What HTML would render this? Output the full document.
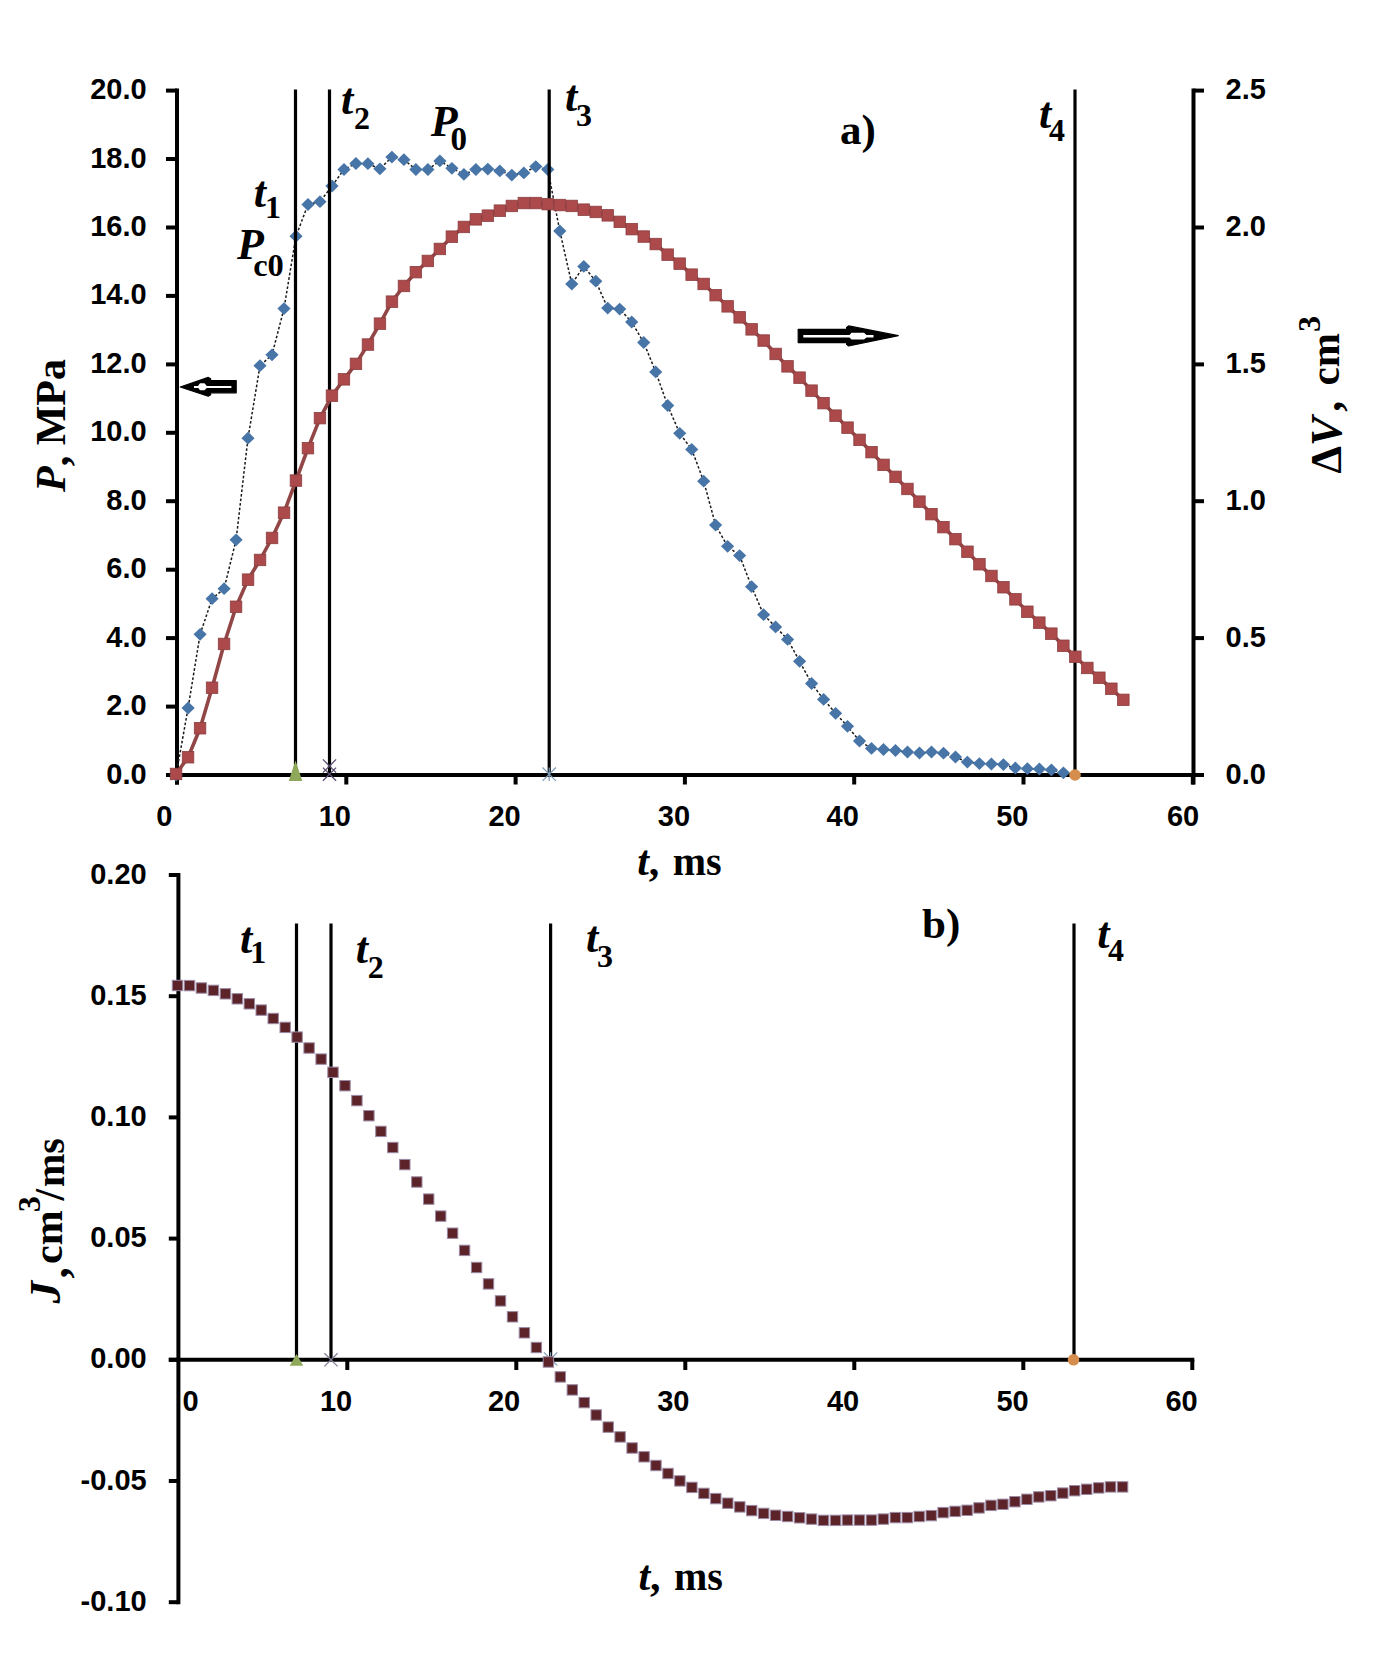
<!DOCTYPE html>
<html><head><meta charset="utf-8"><title>Chart</title>
<style>
html,body{margin:0;padding:0;background:#fff;}
body{width:1400px;height:1656px;overflow:hidden;font-family:"Liberation Sans",sans-serif;}
svg{display:block;}
</style></head><body>
<svg width="1400" height="1656" viewBox="0 0 1400 1656">
<rect width="1400" height="1656" fill="#fff"/>
<g stroke="#000" stroke-width="4" fill="none" stroke-linecap="butt">
<path d="M177.0 88.6 V784.5"/>
<path d="M1193.5 88.6 V784.5"/>
<path d="M175.0 775.0 H1195.5"/>
<path d="M166 90.6 H177.0"/>
<path d="M166 159.0 H177.0"/>
<path d="M166 227.5 H177.0"/>
<path d="M166 295.9 H177.0"/>
<path d="M166 364.4 H177.0"/>
<path d="M166 432.8 H177.0"/>
<path d="M166 501.2 H177.0"/>
<path d="M166 569.7 H177.0"/>
<path d="M166 638.1 H177.0"/>
<path d="M166 706.6 H177.0"/>
<path d="M166 775.0 H177.0"/>
<path d="M1193.5 90.6 H1204"/>
<path d="M1193.5 227.5 H1204"/>
<path d="M1193.5 364.4 H1204"/>
<path d="M1193.5 501.2 H1204"/>
<path d="M1193.5 638.1 H1204"/>
<path d="M1193.5 775.0 H1204"/>
<path d="M177.0 775.0 V784.5"/>
<path d="M346.3 775.0 V784.5"/>
<path d="M515.6 775.0 V784.5"/>
<path d="M684.9 775.0 V784.5"/>
<path d="M854.2 775.0 V784.5"/>
<path d="M1023.5 775.0 V784.5"/>
<path d="M1192.8 775.0 V784.5"/>
</g>
<polyline points="176.1,775.0 188.1,708.0 200.1,634.3 212.1,598.7 224.1,588.7 236.1,539.8 248.0,438.2 260.0,365.7 272.0,354.8 284.0,308.6 296.0,236.2 308.0,204.5 320.0,201.7 332.0,186.0 344.0,169.5 355.9,163.5 367.9,163.7 379.9,168.8 391.9,157.1 403.9,159.7 415.9,169.5 427.9,169.5 439.9,160.9 451.9,168.3 463.9,174.3 475.9,169.5 487.8,169.1 499.8,170.9 511.8,175.1 523.8,172.9 535.8,166.6 547.8,169.5 559.8,231.0 571.8,284.0 583.8,266.4 595.8,281.2 607.7,308.1 619.7,309.1 631.7,322.0 643.7,342.5 655.7,371.9 667.7,405.5 679.7,433.3 691.7,449.4 703.7,481.2 715.6,525.1 727.6,546.3 739.6,555.6 751.6,586.7 763.6,614.7 775.6,626.9 787.6,639.4 799.6,661.3 811.6,683.5 823.6,699.4 835.6,713.3 847.5,726.3 859.5,741.0 871.5,748.4 883.5,749.5 895.5,750.5 907.5,752.0 919.5,753.0 931.5,752.0 943.5,753.2 955.5,757.0 967.4,762.1 979.4,763.6 991.4,764.0 1003.4,764.6 1015.4,768.0 1027.4,768.7 1039.4,769.0 1051.4,769.9 1063.4,772.8" fill="none" stroke="#1a1a1a" stroke-width="1.5" stroke-dasharray="2.6 2"/>
<g fill="#4875a7">
<path d="M176.1 768.6 L182.7 775.0 L176.1 781.4 L169.5 775.0Z"/>
<path d="M188.1 701.6 L194.7 708.0 L188.1 714.4 L181.5 708.0Z"/>
<path d="M200.1 627.9 L206.7 634.3 L200.1 640.7 L193.5 634.3Z"/>
<path d="M212.1 592.3 L218.7 598.7 L212.1 605.1 L205.5 598.7Z"/>
<path d="M224.1 582.3 L230.7 588.7 L224.1 595.1 L217.5 588.7Z"/>
<path d="M236.1 533.4 L242.7 539.8 L236.1 546.2 L229.5 539.8Z"/>
<path d="M248.0 431.8 L254.6 438.2 L248.0 444.6 L241.4 438.2Z"/>
<path d="M260.0 359.3 L266.6 365.7 L260.0 372.1 L253.4 365.7Z"/>
<path d="M272.0 348.4 L278.6 354.8 L272.0 361.2 L265.4 354.8Z"/>
<path d="M284.0 302.2 L290.6 308.6 L284.0 315.0 L277.4 308.6Z"/>
<path d="M296.0 229.8 L302.6 236.2 L296.0 242.6 L289.4 236.2Z"/>
<path d="M308.0 198.1 L314.6 204.5 L308.0 210.9 L301.4 204.5Z"/>
<path d="M320.0 195.3 L326.6 201.7 L320.0 208.1 L313.4 201.7Z"/>
<path d="M332.0 179.6 L338.6 186.0 L332.0 192.4 L325.4 186.0Z"/>
<path d="M344.0 163.1 L350.6 169.5 L344.0 175.9 L337.4 169.5Z"/>
<path d="M355.9 157.1 L362.6 163.5 L355.9 169.9 L349.3 163.5Z"/>
<path d="M367.9 157.3 L374.5 163.7 L367.9 170.1 L361.3 163.7Z"/>
<path d="M379.9 162.4 L386.5 168.8 L379.9 175.2 L373.3 168.8Z"/>
<path d="M391.9 150.7 L398.5 157.1 L391.9 163.5 L385.3 157.1Z"/>
<path d="M403.9 153.3 L410.5 159.7 L403.9 166.1 L397.3 159.7Z"/>
<path d="M415.9 163.1 L422.5 169.5 L415.9 175.9 L409.3 169.5Z"/>
<path d="M427.9 163.1 L434.5 169.5 L427.9 175.9 L421.3 169.5Z"/>
<path d="M439.9 154.5 L446.5 160.9 L439.9 167.3 L433.3 160.9Z"/>
<path d="M451.9 161.9 L458.5 168.3 L451.9 174.7 L445.3 168.3Z"/>
<path d="M463.9 167.9 L470.5 174.3 L463.9 180.7 L457.3 174.3Z"/>
<path d="M475.9 163.1 L482.5 169.5 L475.9 175.9 L469.2 169.5Z"/>
<path d="M487.8 162.7 L494.4 169.1 L487.8 175.5 L481.2 169.1Z"/>
<path d="M499.8 164.5 L506.4 170.9 L499.8 177.3 L493.2 170.9Z"/>
<path d="M511.8 168.7 L518.4 175.1 L511.8 181.5 L505.2 175.1Z"/>
<path d="M523.8 166.5 L530.4 172.9 L523.8 179.3 L517.2 172.9Z"/>
<path d="M535.8 160.2 L542.4 166.6 L535.8 173.0 L529.2 166.6Z"/>
<path d="M547.8 163.1 L554.4 169.5 L547.8 175.9 L541.2 169.5Z"/>
<path d="M559.8 224.6 L566.4 231.0 L559.8 237.4 L553.2 231.0Z"/>
<path d="M571.8 277.6 L578.4 284.0 L571.8 290.4 L565.2 284.0Z"/>
<path d="M583.8 260.0 L590.4 266.4 L583.8 272.8 L577.2 266.4Z"/>
<path d="M595.8 274.8 L602.4 281.2 L595.8 287.6 L589.1 281.2Z"/>
<path d="M607.7 301.7 L614.3 308.1 L607.7 314.5 L601.1 308.1Z"/>
<path d="M619.7 302.7 L626.3 309.1 L619.7 315.5 L613.1 309.1Z"/>
<path d="M631.7 315.6 L638.3 322.0 L631.7 328.4 L625.1 322.0Z"/>
<path d="M643.7 336.1 L650.3 342.5 L643.7 348.9 L637.1 342.5Z"/>
<path d="M655.7 365.5 L662.3 371.9 L655.7 378.3 L649.1 371.9Z"/>
<path d="M667.7 399.1 L674.3 405.5 L667.7 411.9 L661.1 405.5Z"/>
<path d="M679.7 426.9 L686.3 433.3 L679.7 439.7 L673.1 433.3Z"/>
<path d="M691.7 443.0 L698.3 449.4 L691.7 455.8 L685.1 449.4Z"/>
<path d="M703.7 474.8 L710.3 481.2 L703.7 487.6 L697.1 481.2Z"/>
<path d="M715.6 518.7 L722.2 525.1 L715.6 531.5 L709.0 525.1Z"/>
<path d="M727.6 539.9 L734.2 546.3 L727.6 552.7 L721.0 546.3Z"/>
<path d="M739.6 549.2 L746.2 555.6 L739.6 562.0 L733.0 555.6Z"/>
<path d="M751.6 580.3 L758.2 586.7 L751.6 593.1 L745.0 586.7Z"/>
<path d="M763.6 608.3 L770.2 614.7 L763.6 621.1 L757.0 614.7Z"/>
<path d="M775.6 620.5 L782.2 626.9 L775.6 633.3 L769.0 626.9Z"/>
<path d="M787.6 633.0 L794.2 639.4 L787.6 645.8 L781.0 639.4Z"/>
<path d="M799.6 654.9 L806.2 661.3 L799.6 667.7 L793.0 661.3Z"/>
<path d="M811.6 677.1 L818.2 683.5 L811.6 689.9 L805.0 683.5Z"/>
<path d="M823.6 693.0 L830.2 699.4 L823.6 705.8 L817.0 699.4Z"/>
<path d="M835.6 706.9 L842.2 713.3 L835.6 719.7 L829.0 713.3Z"/>
<path d="M847.5 719.9 L854.1 726.3 L847.5 732.7 L840.9 726.3Z"/>
<path d="M859.5 734.6 L866.1 741.0 L859.5 747.4 L852.9 741.0Z"/>
<path d="M871.5 742.0 L878.1 748.4 L871.5 754.8 L864.9 748.4Z"/>
<path d="M883.5 743.1 L890.1 749.5 L883.5 755.9 L876.9 749.5Z"/>
<path d="M895.5 744.1 L902.1 750.5 L895.5 756.9 L888.9 750.5Z"/>
<path d="M907.5 745.6 L914.1 752.0 L907.5 758.4 L900.9 752.0Z"/>
<path d="M919.5 746.6 L926.1 753.0 L919.5 759.4 L912.9 753.0Z"/>
<path d="M931.5 745.6 L938.1 752.0 L931.5 758.4 L924.9 752.0Z"/>
<path d="M943.5 746.8 L950.1 753.2 L943.5 759.6 L936.9 753.2Z"/>
<path d="M955.5 750.6 L962.1 757.0 L955.5 763.4 L948.9 757.0Z"/>
<path d="M967.4 755.7 L974.0 762.1 L967.4 768.5 L960.8 762.1Z"/>
<path d="M979.4 757.2 L986.0 763.6 L979.4 770.0 L972.8 763.6Z"/>
<path d="M991.4 757.6 L998.0 764.0 L991.4 770.4 L984.8 764.0Z"/>
<path d="M1003.4 758.2 L1010.0 764.6 L1003.4 771.0 L996.8 764.6Z"/>
<path d="M1015.4 761.6 L1022.0 768.0 L1015.4 774.4 L1008.8 768.0Z"/>
<path d="M1027.4 762.3 L1034.0 768.7 L1027.4 775.1 L1020.8 768.7Z"/>
<path d="M1039.4 762.6 L1046.0 769.0 L1039.4 775.4 L1032.8 769.0Z"/>
<path d="M1051.4 763.5 L1058.0 769.9 L1051.4 776.3 L1044.8 769.9Z"/>
<path d="M1063.4 766.4 L1070.0 772.8 L1063.4 779.2 L1056.8 772.8Z"/>
</g>
<g stroke="#000" stroke-width="3.2">
<path d="M295.5 89.6 V775.0"/>
<path d="M329.5 89.6 V775.0"/>
<path d="M549.2 89.6 V775.0"/>
<path d="M1075.0 89.6 V775.0"/>
</g>
<polyline points="176.1,774.0 188.1,757.2 200.1,728.2 212.1,687.7 224.1,644.0 236.1,606.8 248.0,579.6 260.0,560.0 272.0,538.0 284.0,512.6 296.0,480.5 308.0,448.1 320.0,418.2 332.0,395.6 344.0,379.3 355.9,363.9 367.9,344.5 379.9,323.6 391.9,301.7 403.9,286.0 415.9,272.1 427.9,261.0 439.9,248.9 451.9,236.7 463.9,226.9 475.9,219.3 487.8,215.7 499.8,210.7 511.8,206.0 523.8,203.1 535.8,203.1 547.8,204.2 559.8,205.1 571.8,206.0 583.8,209.7 595.8,211.9 607.7,215.3 619.7,221.8 631.7,229.2 643.7,236.6 655.7,244.1 667.7,254.7 679.7,263.6 691.7,274.7 703.7,284.0 715.6,295.1 727.6,306.3 739.6,317.4 751.6,329.4 763.6,340.5 775.6,354.0 787.6,366.4 799.6,377.6 811.6,390.6 823.6,403.2 835.6,415.6 847.5,427.7 859.5,439.8 871.5,452.2 883.5,464.8 895.5,476.9 907.5,489.0 919.5,501.6 931.5,514.1 943.5,527.1 955.5,539.1 967.4,551.8 979.4,564.2 991.4,576.0 1003.4,587.2 1015.4,599.4 1027.4,611.7 1039.4,622.6 1051.4,633.6 1063.4,645.8 1075.3,656.8 1087.3,668.0 1099.3,677.7 1111.3,688.7 1123.3,699.9" fill="none" stroke="#924646" stroke-width="3.6" stroke-linejoin="round"/>
<g fill="#ab494b" stroke="#8c3f40" stroke-width="0.8">
<rect x="170.3" y="768.2" width="11.5" height="11.5"/>
<rect x="182.3" y="751.5" width="11.5" height="11.5"/>
<rect x="194.3" y="722.5" width="11.5" height="11.5"/>
<rect x="206.3" y="682.0" width="11.5" height="11.5"/>
<rect x="218.3" y="638.2" width="11.5" height="11.5"/>
<rect x="230.3" y="601.0" width="11.5" height="11.5"/>
<rect x="242.3" y="573.9" width="11.5" height="11.5"/>
<rect x="254.3" y="554.2" width="11.5" height="11.5"/>
<rect x="266.3" y="532.2" width="11.5" height="11.5"/>
<rect x="278.3" y="506.9" width="11.5" height="11.5"/>
<rect x="290.2" y="474.8" width="11.5" height="11.5"/>
<rect x="302.2" y="442.4" width="11.5" height="11.5"/>
<rect x="314.2" y="412.4" width="11.5" height="11.5"/>
<rect x="326.2" y="389.9" width="11.5" height="11.5"/>
<rect x="338.2" y="373.6" width="11.5" height="11.5"/>
<rect x="350.2" y="358.1" width="11.5" height="11.5"/>
<rect x="362.2" y="338.8" width="11.5" height="11.5"/>
<rect x="374.2" y="317.9" width="11.5" height="11.5"/>
<rect x="386.2" y="295.9" width="11.5" height="11.5"/>
<rect x="398.2" y="280.2" width="11.5" height="11.5"/>
<rect x="410.1" y="266.4" width="11.5" height="11.5"/>
<rect x="422.1" y="255.2" width="11.5" height="11.5"/>
<rect x="434.1" y="243.2" width="11.5" height="11.5"/>
<rect x="446.1" y="230.9" width="11.5" height="11.5"/>
<rect x="458.1" y="221.2" width="11.5" height="11.5"/>
<rect x="470.1" y="213.6" width="11.5" height="11.5"/>
<rect x="482.1" y="209.9" width="11.5" height="11.5"/>
<rect x="494.1" y="204.9" width="11.5" height="11.5"/>
<rect x="506.1" y="200.2" width="11.5" height="11.5"/>
<rect x="518.1" y="197.3" width="11.5" height="11.5"/>
<rect x="530.0" y="197.3" width="11.5" height="11.5"/>
<rect x="542.0" y="198.4" width="11.5" height="11.5"/>
<rect x="554.0" y="199.3" width="11.5" height="11.5"/>
<rect x="566.0" y="200.2" width="11.5" height="11.5"/>
<rect x="578.0" y="203.9" width="11.5" height="11.5"/>
<rect x="590.0" y="206.2" width="11.5" height="11.5"/>
<rect x="602.0" y="209.6" width="11.5" height="11.5"/>
<rect x="614.0" y="216.1" width="11.5" height="11.5"/>
<rect x="626.0" y="223.4" width="11.5" height="11.5"/>
<rect x="638.0" y="230.8" width="11.5" height="11.5"/>
<rect x="650.0" y="238.3" width="11.5" height="11.5"/>
<rect x="661.9" y="248.9" width="11.5" height="11.5"/>
<rect x="673.9" y="257.9" width="11.5" height="11.5"/>
<rect x="685.9" y="268.9" width="11.5" height="11.5"/>
<rect x="697.9" y="278.2" width="11.5" height="11.5"/>
<rect x="709.9" y="289.4" width="11.5" height="11.5"/>
<rect x="721.9" y="300.6" width="11.5" height="11.5"/>
<rect x="733.9" y="311.6" width="11.5" height="11.5"/>
<rect x="745.9" y="323.6" width="11.5" height="11.5"/>
<rect x="757.9" y="334.8" width="11.5" height="11.5"/>
<rect x="769.9" y="348.2" width="11.5" height="11.5"/>
<rect x="781.8" y="360.6" width="11.5" height="11.5"/>
<rect x="793.8" y="371.9" width="11.5" height="11.5"/>
<rect x="805.8" y="384.9" width="11.5" height="11.5"/>
<rect x="817.8" y="397.4" width="11.5" height="11.5"/>
<rect x="829.8" y="409.9" width="11.5" height="11.5"/>
<rect x="841.8" y="421.9" width="11.5" height="11.5"/>
<rect x="853.8" y="434.1" width="11.5" height="11.5"/>
<rect x="865.8" y="446.4" width="11.5" height="11.5"/>
<rect x="877.8" y="459.1" width="11.5" height="11.5"/>
<rect x="889.8" y="471.1" width="11.5" height="11.5"/>
<rect x="901.7" y="483.2" width="11.5" height="11.5"/>
<rect x="913.7" y="495.9" width="11.5" height="11.5"/>
<rect x="925.7" y="508.4" width="11.5" height="11.5"/>
<rect x="937.7" y="521.4" width="11.5" height="11.5"/>
<rect x="949.7" y="533.4" width="11.5" height="11.5"/>
<rect x="961.7" y="546.0" width="11.5" height="11.5"/>
<rect x="973.7" y="558.5" width="11.5" height="11.5"/>
<rect x="985.7" y="570.2" width="11.5" height="11.5"/>
<rect x="997.7" y="581.5" width="11.5" height="11.5"/>
<rect x="1009.7" y="593.6" width="11.5" height="11.5"/>
<rect x="1021.6" y="606.0" width="11.5" height="11.5"/>
<rect x="1033.6" y="616.9" width="11.5" height="11.5"/>
<rect x="1045.6" y="627.9" width="11.5" height="11.5"/>
<rect x="1057.6" y="640.0" width="11.5" height="11.5"/>
<rect x="1069.6" y="651.0" width="11.5" height="11.5"/>
<rect x="1081.6" y="662.2" width="11.5" height="11.5"/>
<rect x="1093.6" y="672.0" width="11.5" height="11.5"/>
<rect x="1105.6" y="683.0" width="11.5" height="11.5"/>
<rect x="1117.6" y="694.1" width="11.5" height="11.5"/>
</g>
<path d="M295.5 760.5 L302.3 781.0 L288.7 781.0Z" fill="#8fa85a"/>
<path d="M322.9 759.4 L336.1 772.6 M336.1 759.4 L322.9 772.6 M322.9 767.6 L336.1 780.8000000000001 M336.1 767.6 L322.9 780.8000000000001" stroke="#5a4d72" stroke-width="1.3" fill="none"/>
<path d="M542.5 767.5 L555.9000000000001 780.9000000000001 M555.9000000000001 767.5 L542.5 780.9000000000001 M549.2 767.5 V780.9000000000001" stroke="#7e9db8" stroke-width="1.2" fill="none"/>
<circle cx="1075.0" cy="775.0" r="5.8" fill="#d58e4e"/>
<g stroke="#000" stroke-width="4" fill="none">
<path d="M178.4 873.0 V1604.2"/>
<path d="M168.8 1359.8 H1194.3"/>
<path d="M168.8 875.0 H178.4"/>
<path d="M168.8 996.2 H178.4"/>
<path d="M168.8 1117.4 H178.4"/>
<path d="M168.8 1238.6 H178.4"/>
<path d="M168.8 1359.8 H178.4"/>
<path d="M168.8 1481.0 H178.4"/>
<path d="M168.8 1602.2 H178.4"/>
<path d="M347.3 1359.8 V1370"/>
<path d="M516.3 1359.8 V1370"/>
<path d="M685.3 1359.8 V1370"/>
<path d="M854.3 1359.8 V1370"/>
<path d="M1023.3 1359.8 V1370"/>
<path d="M1192.3 1359.8 V1370"/>
</g>
<g stroke="#000" stroke-width="3.2">
<path d="M296.5 923.5 V1359.8"/>
<path d="M331.0 923.5 V1359.8"/>
<path d="M550.6 923.5 V1359.8"/>
<path d="M1074.0 923.5 V1359.8"/>
</g>
<path d="M296.5 1354 L303.3 1365.8 L289.7 1365.8Z" fill="#8fa85a"/>
<path d="M324.4 1353.2 L337.6 1366.3999999999999 M337.6 1353.2 L324.4 1366.3999999999999" stroke="#80809a" stroke-width="1.3" fill="none"/>
<path d="M543.9 1352.3 L557.3000000000001 1365.7 M557.3000000000001 1352.3 L543.9 1365.7 M550.6 1352.3 V1365.7" stroke="#7e9db8" stroke-width="1.2" fill="none"/>
<circle cx="1073.5" cy="1359.8" r="5.8" fill="#d58e4e"/>
<g fill="#5c2329" stroke="#9c8aa6" stroke-width="1">
<rect x="172.3" y="980.3" width="10.4" height="10.4"/>
<rect x="184.3" y="980.4" width="10.4" height="10.4"/>
<rect x="196.2" y="982.8" width="10.4" height="10.4"/>
<rect x="208.2" y="985.2" width="10.4" height="10.4"/>
<rect x="220.2" y="988.6" width="10.4" height="10.4"/>
<rect x="232.1" y="993.6" width="10.4" height="10.4"/>
<rect x="244.1" y="998.6" width="10.4" height="10.4"/>
<rect x="256.0" y="1004.9" width="10.4" height="10.4"/>
<rect x="268.0" y="1013.3" width="10.4" height="10.4"/>
<rect x="280.0" y="1022.2" width="10.4" height="10.4"/>
<rect x="291.9" y="1031.9" width="10.4" height="10.4"/>
<rect x="303.9" y="1042.8" width="10.4" height="10.4"/>
<rect x="315.9" y="1053.9" width="10.4" height="10.4"/>
<rect x="327.8" y="1067.1" width="10.4" height="10.4"/>
<rect x="339.8" y="1080.5" width="10.4" height="10.4"/>
<rect x="351.7" y="1095.4" width="10.4" height="10.4"/>
<rect x="363.7" y="1110.5" width="10.4" height="10.4"/>
<rect x="375.7" y="1126.2" width="10.4" height="10.4"/>
<rect x="387.6" y="1142.3" width="10.4" height="10.4"/>
<rect x="399.6" y="1159.4" width="10.4" height="10.4"/>
<rect x="411.6" y="1176.8" width="10.4" height="10.4"/>
<rect x="423.5" y="1193.9" width="10.4" height="10.4"/>
<rect x="435.5" y="1210.9" width="10.4" height="10.4"/>
<rect x="447.4" y="1228.0" width="10.4" height="10.4"/>
<rect x="459.4" y="1245.2" width="10.4" height="10.4"/>
<rect x="471.4" y="1262.3" width="10.4" height="10.4"/>
<rect x="483.3" y="1278.7" width="10.4" height="10.4"/>
<rect x="495.3" y="1295.7" width="10.4" height="10.4"/>
<rect x="507.3" y="1311.6" width="10.4" height="10.4"/>
<rect x="519.2" y="1327.6" width="10.4" height="10.4"/>
<rect x="531.2" y="1342.3" width="10.4" height="10.4"/>
<rect x="543.2" y="1356.8" width="10.4" height="10.4"/>
<rect x="555.1" y="1371.7" width="10.4" height="10.4"/>
<rect x="567.1" y="1384.7" width="10.4" height="10.4"/>
<rect x="579.0" y="1397.4" width="10.4" height="10.4"/>
<rect x="591.0" y="1409.8" width="10.4" height="10.4"/>
<rect x="603.0" y="1421.9" width="10.4" height="10.4"/>
<rect x="614.9" y="1431.7" width="10.4" height="10.4"/>
<rect x="626.9" y="1442.8" width="10.4" height="10.4"/>
<rect x="638.9" y="1451.6" width="10.4" height="10.4"/>
<rect x="650.8" y="1460.3" width="10.4" height="10.4"/>
<rect x="662.8" y="1468.3" width="10.4" height="10.4"/>
<rect x="674.7" y="1475.7" width="10.4" height="10.4"/>
<rect x="686.7" y="1482.2" width="10.4" height="10.4"/>
<rect x="698.7" y="1488.2" width="10.4" height="10.4"/>
<rect x="710.6" y="1493.4" width="10.4" height="10.4"/>
<rect x="722.6" y="1498.0" width="10.4" height="10.4"/>
<rect x="734.6" y="1501.7" width="10.4" height="10.4"/>
<rect x="746.5" y="1505.4" width="10.4" height="10.4"/>
<rect x="758.5" y="1508.2" width="10.4" height="10.4"/>
<rect x="770.4" y="1510.1" width="10.4" height="10.4"/>
<rect x="782.4" y="1511.3" width="10.4" height="10.4"/>
<rect x="794.4" y="1512.6" width="10.4" height="10.4"/>
<rect x="806.3" y="1513.9" width="10.4" height="10.4"/>
<rect x="818.3" y="1515.2" width="10.4" height="10.4"/>
<rect x="830.3" y="1515.2" width="10.4" height="10.4"/>
<rect x="842.2" y="1514.9" width="10.4" height="10.4"/>
<rect x="854.2" y="1514.9" width="10.4" height="10.4"/>
<rect x="866.2" y="1514.9" width="10.4" height="10.4"/>
<rect x="878.1" y="1513.9" width="10.4" height="10.4"/>
<rect x="890.1" y="1512.4" width="10.4" height="10.4"/>
<rect x="902.0" y="1512.4" width="10.4" height="10.4"/>
<rect x="914.0" y="1511.3" width="10.4" height="10.4"/>
<rect x="926.0" y="1510.4" width="10.4" height="10.4"/>
<rect x="937.9" y="1507.4" width="10.4" height="10.4"/>
<rect x="949.9" y="1506.2" width="10.4" height="10.4"/>
<rect x="961.9" y="1505.1" width="10.4" height="10.4"/>
<rect x="973.8" y="1502.7" width="10.4" height="10.4"/>
<rect x="985.8" y="1500.2" width="10.4" height="10.4"/>
<rect x="997.7" y="1499.1" width="10.4" height="10.4"/>
<rect x="1009.7" y="1496.5" width="10.4" height="10.4"/>
<rect x="1021.7" y="1494.1" width="10.4" height="10.4"/>
<rect x="1033.6" y="1491.7" width="10.4" height="10.4"/>
<rect x="1045.6" y="1490.5" width="10.4" height="10.4"/>
<rect x="1057.6" y="1487.9" width="10.4" height="10.4"/>
<rect x="1069.5" y="1485.5" width="10.4" height="10.4"/>
<rect x="1081.5" y="1484.1" width="10.4" height="10.4"/>
<rect x="1093.5" y="1482.7" width="10.4" height="10.4"/>
<rect x="1105.4" y="1481.7" width="10.4" height="10.4"/>
<rect x="1117.4" y="1481.7" width="10.4" height="10.4"/>
</g>
<g font-family="Liberation Sans" font-weight="bold" font-size="29" fill="#000">
<text x="146.6" y="99.1" text-anchor="end">20.0</text>
<text x="146.6" y="167.5" text-anchor="end">18.0</text>
<text x="146.6" y="236.0" text-anchor="end">16.0</text>
<text x="146.6" y="304.4" text-anchor="end">14.0</text>
<text x="146.6" y="372.9" text-anchor="end">12.0</text>
<text x="146.6" y="441.3" text-anchor="end">10.0</text>
<text x="146.6" y="509.7" text-anchor="end">8.0</text>
<text x="146.6" y="578.2" text-anchor="end">6.0</text>
<text x="146.6" y="646.6" text-anchor="end">4.0</text>
<text x="146.6" y="715.1" text-anchor="end">2.0</text>
<text x="146.6" y="783.5" text-anchor="end">0.0</text>
<text x="1225.6" y="99.1">2.5</text>
<text x="1225.6" y="236.0">2.0</text>
<text x="1225.6" y="372.9">1.5</text>
<text x="1225.6" y="509.7">1.0</text>
<text x="1225.6" y="646.6">0.5</text>
<text x="1225.6" y="783.5">0.0</text>
<text x="164.4" y="826" text-anchor="middle">0</text>
<text x="334.8" y="826" text-anchor="middle">10</text>
<text x="504.6" y="826" text-anchor="middle">20</text>
<text x="673.9" y="826" text-anchor="middle">30</text>
<text x="842.7" y="826" text-anchor="middle">40</text>
<text x="1012.3" y="826" text-anchor="middle">50</text>
<text x="1183.1" y="826" text-anchor="middle">60</text>
<text x="146.7" y="883.6" text-anchor="end">0.20</text>
<text x="146.7" y="1004.8" text-anchor="end">0.15</text>
<text x="146.7" y="1126.0" text-anchor="end">0.10</text>
<text x="146.7" y="1247.2" text-anchor="end">0.05</text>
<text x="146.7" y="1368.4" text-anchor="end">0.00</text>
<text x="146.7" y="1489.6" text-anchor="end">-0.05</text>
<text x="146.7" y="1610.8" text-anchor="end">-0.10</text>
<text x="190.5" y="1411" text-anchor="middle">0</text>
<text x="336.1" y="1411" text-anchor="middle">10</text>
<text x="504.1" y="1411" text-anchor="middle">20</text>
<text x="673.3" y="1411" text-anchor="middle">30</text>
<text x="843.1" y="1411" text-anchor="middle">40</text>
<text x="1012.6" y="1411" text-anchor="middle">50</text>
<text x="1181.6" y="1411" text-anchor="middle">60</text>
</g>
<text font-family="Liberation Serif" font-weight="bold" font-style="italic" font-size="44" x="253.8" y="207">t</text><text font-family="Liberation Serif" font-weight="bold" font-size="32" x="265.0" y="217.8">1</text>
<text font-family="Liberation Serif" font-weight="bold" font-style="italic" font-size="44" x="341.1" y="113.8">t</text><text font-family="Liberation Serif" font-weight="bold" font-size="32" x="354.1" y="128.8">2</text>
<text font-family="Liberation Serif" font-weight="bold" font-style="italic" font-size="44" x="565" y="111.4">t</text><text font-family="Liberation Serif" font-weight="bold" font-size="32" x="576" y="126.4">3</text>
<text font-family="Liberation Serif" font-weight="bold" font-style="italic" font-size="44" x="1039" y="128">t</text><text font-family="Liberation Serif" font-weight="bold" font-size="32" x="1049" y="141">4</text>
<text font-family="Liberation Serif" font-weight="bold" font-style="italic" font-size="44" x="239.9" y="952.5">t</text><text font-family="Liberation Serif" font-weight="bold" font-size="32" x="250.3" y="963.4">1</text>
<text font-family="Liberation Serif" font-weight="bold" font-style="italic" font-size="44" x="355.7" y="963.4">t</text><text font-family="Liberation Serif" font-weight="bold" font-size="32" x="367.8" y="978">2</text>
<text font-family="Liberation Serif" font-weight="bold" font-style="italic" font-size="44" x="586.1" y="952.3">t</text><text font-family="Liberation Serif" font-weight="bold" font-size="32" x="597" y="967.1">3</text>
<text font-family="Liberation Serif" font-weight="bold" font-style="italic" font-size="44" x="1097.3" y="948">t</text><text font-family="Liberation Serif" font-weight="bold" font-size="32" x="1108" y="960.5">4</text>
<text font-family="Liberation Serif" font-weight="bold" font-style="italic" font-size="44" x="237" y="258.7">P</text>
<text font-family="Liberation Serif" font-weight="bold" font-size="32.5" x="253.2" y="276.2">c0</text>
<text font-family="Liberation Serif" font-weight="bold" font-style="italic" font-size="44" x="430.7" y="135.7">P</text>
<text font-family="Liberation Serif" font-weight="bold" font-size="33" x="450.4" y="149.7">0</text>
<text font-family="Liberation Serif" font-weight="bold" font-size="43" x="840" y="144.1">a)</text>
<text font-family="Liberation Serif" font-weight="bold" font-size="43" x="922" y="938.2">b)</text>
<text font-family="Liberation Serif" font-weight="bold" font-size="42" x="637.2" y="875.1"><tspan font-style="italic">t</tspan>,</text>
<text font-family="Liberation Serif" font-weight="bold" font-size="40" x="672.7" y="875.1">ms</text>
<text font-family="Liberation Serif" font-weight="bold" font-size="42" x="638.4" y="1589.7"><tspan font-style="italic">t</tspan>,</text>
<text font-family="Liberation Serif" font-weight="bold" font-size="40" x="673.9" y="1589.7">ms</text>
<text font-family="Liberation Serif" font-weight="bold" font-size="42" transform="translate(64.6,492) rotate(-90)"><tspan font-style="italic">P</tspan><tspan dy="3">,</tspan><tspan dy="-3"> MPa</tspan></text>
<text font-family="Liberation Serif" font-weight="bold" font-size="44" transform="translate(1340.5,473.5) rotate(-90)">&#916;<tspan font-style="italic">V</tspan><tspan dx="4.7">,</tspan></text>
<text font-family="Liberation Serif" font-weight="bold" font-size="41" transform="translate(1339,385.5) rotate(-90)">cm</text>
<text font-family="Liberation Serif" font-weight="bold" font-size="32" transform="translate(1319.6,332) rotate(-90)">3</text>
<text font-family="Liberation Serif" font-weight="bold" font-size="45" font-style="italic" transform="translate(59.5,1303.5) rotate(-90)">J</text>
<text font-family="Liberation Serif" font-weight="bold" font-size="45" transform="translate(67.5,1278.5) rotate(-90)">,</text>
<text font-family="Liberation Serif" font-weight="bold" font-size="42" transform="translate(61.5,1264) rotate(-90)">cm</text>
<text font-family="Liberation Serif" font-weight="bold" font-size="32" transform="translate(40.4,1212.2) rotate(-90)">3</text>
<text font-family="Liberation Serif" font-weight="bold" font-size="42" transform="translate(64,1200.5) rotate(-90)">/</text>
<text font-family="Liberation Serif" font-weight="bold" font-size="40" transform="translate(64.3,1187) rotate(-90)">ms</text>
<g fill="#000" stroke="#000" stroke-width="1.2" stroke-linejoin="round">
<path d="M180.2 387 L208.3 377.4 L210.6 378.8 L210.6 380.6 L236.2 380.6 L236.2 392.8 L210.6 392.8 L210.6 394.8 L208.3 396.2 Z"/>
<path d="M898.3 335.7 L848.6 325.9 L846.6 327.4 L846.6 329.3 L798.2 329.3 L798.2 342.6 L846.6 342.6 L846.6 344.4 L848.6 346 Z"/>
</g>
<g fill="#fff">
<path d="M194 386 L231.4 386 L231.4 388.1 L194 388.1 Z M197.4 386.8 L200 383.3 L204.5 383.3 L206.8 386 L206.8 388 L204.5 390.3 L200 390.3 Z"/>
<path d="M803.3 335 L873.5 335 L873.5 337.4 L803.3 337.4 Z M849.5 335 L851.5 332.8 L864 332.8 L866.5 335 L866.5 337.4 L864 339.6 L851.5 339.6 L849.5 337.4 Z"/>
</g>
</svg>
</body></html>
